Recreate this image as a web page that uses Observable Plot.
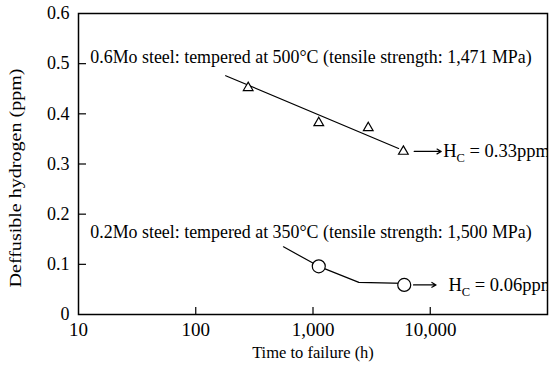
<!DOCTYPE html>
<html>
<head>
<meta charset="utf-8">
<script src="https://cdn.jsdelivr.net/npm/d3@7"></script>
<script src="https://cdn.jsdelivr.net/npm/@observablehq/plot@0.6"></script>
<style>
  html, body { margin: 0; padding: 0; background: #fff; }
  svg, svg text { font-family: "Liberation Serif", "DejaVu Serif", serif !important; }
</style>
</head>
<body>
<div id="chart"></div>
<script>
// ---- data ----
const xTicks = [10, 100, 1000, 10000];
const xInnerTicks = [100, 1000, 10000];
const yTicks = [0, 0.1, 0.2, 0.3, 0.4, 0.5, 0.6];
const yInnerTicks = [0.1, 0.2, 0.3, 0.4, 0.5];

// 0.6Mo steel (triangles)
const mo6Time = [280, 1120, 2960, 5900];
const mo6H = [0.452, 0.382, 0.372, 0.325];
const mo6FitTime = [180, 5370];
const mo6FitH = [0.476, 0.331];

// 0.2Mo steel (circles)
const mo2Time = [1120, 6000];
const mo2H = [0.096, 0.059];
const mo2LineTime = [560, 1120, 2460, 6000];
const mo2LineH = [0.135, 0.096, 0.064, 0.062];

// annotations
const labels = [
  "0.6Mo steel: tempered at 500°C (tensile strength: 1,471 MPa)",
  "0.2Mo steel: tempered at 350°C (tensile strength: 1,500 MPa)"
];
const labelTime = [12.6, 12.6];
const labelH = [0.512, 0.163];

const hcText = ["HC = 0.33ppm", "HC = 0.06ppm"];
const hcTime = [12900, 14300];
const hcH = [0.325, 0.059];
const arrowFrom = [7300, 7200];
const arrowTo = [12400, 11200];

const xLabel = "Time to failure (h)";
const yLabel = "Deffusible hydrogen (ppm)";

// ---- build tables ----
const tri = mo6Time.map((t, i) => ({t, h: mo6H[i]}));
const fit6 = mo6FitTime.map((t, i) => ({t, h: mo6FitH[i]}));
const circ = mo2Time.map((t, i) => ({t, h: mo2H[i]}));
const line2 = mo2LineTime.map((t, i) => ({t, h: mo2LineH[i]}));
const lab = labels.map((s, i) => ({s, t: labelTime[i], h: labelH[i]}));
const hc = hcText.map((s, i) => ({s, t: hcTime[i], h: hcH[i], t1: arrowFrom[i], t2: arrowTo[i]}));

const chart = Plot.plot({
  width: 553,
  height: 369,
  marginLeft: 78,
  marginRight: 6,
  marginTop: 13,
  marginBottom: 55,
  style: {fontFamily: "Liberation Serif", background: "#fff", color: "#000"},
  x: {type: "log", domain: [10, 100000]},
  y: {domain: [0, 0.6]},
  marks: [
    Plot.axisX({ticks: xTicks, tickSize: 0, tickPadding: 8, tickFormat: d3.format(","), fontSize: 19, label: null}),
    Plot.axisX({ticks: xInnerTicks, tickSize: -7, text: null, label: null, strokeWidth: 1.2}),
    Plot.axisY({ticks: yTicks, tickSize: 0, tickPadding: 9, tickFormat: d => d === 0 ? "0" : d3.format(".1f")(d), fontSize: 18, label: null}),
    Plot.axisY({ticks: yInnerTicks, tickSize: -8, text: null, label: null, strokeWidth: 1.2}),
    Plot.text([xLabel], {frameAnchor: "bottom", dy: 43, fontSize: 16.5, text: d => d}),
    Plot.text([yLabel], {frameAnchor: "left", dx: -63, dy: 123.5, rotate: -90, textAnchor: "start", fontSize: 16, text: d => d}),
    Plot.line(fit6, {x: "t", y: "h", stroke: "#000", strokeWidth: 1.2}),
    Plot.line(line2, {x: "t", y: "h", stroke: "#000", strokeWidth: 1.2}),
    Plot.dot(tri, {x: "t", y: "h", symbol: "triangle", r: 3.6, stroke: "#000", fill: "#fff", strokeWidth: 1.2}),
    Plot.dot(circ, {x: "t", y: "h", r: 6.5, stroke: "#000", fill: "#fff", strokeWidth: 1.2}),
    Plot.arrow(hc, {x1: "t1", x2: "t2", y1: "h", y2: "h", stroke: "#000", strokeWidth: 1.2, headLength: 6}),
    Plot.text(lab, {x: "t", y: "h", text: "s", textAnchor: "start", fontSize: 17.9}),
    Plot.text(hc, {x: "t", y: "h", text: "s", textAnchor: "start", fontSize: 18.5, clip: true}),
    Plot.frame({stroke: "#000", strokeWidth: 1.5})
  ]
});

// subscript C in H_C; stretch y label like the reference
const NS = "http://www.w3.org/2000/svg";
chart.querySelectorAll("text").forEach(t => {
  const s = t.textContent;
  if (s.startsWith("HC =")) {
    while (t.firstChild) t.removeChild(t.firstChild);
    const a = document.createElementNS(NS, "tspan"); a.textContent = "H";
    const b = document.createElementNS(NS, "tspan"); b.textContent = "C";
    b.setAttribute("dy", "5"); b.setAttribute("font-size", "12.5");
    const c = document.createElementNS(NS, "tspan"); c.textContent = s.slice(2);
    c.setAttribute("dy", "-5");
    t.appendChild(a); t.appendChild(b); t.appendChild(c);
  }
  if (s === yLabel) {
    t.setAttribute("textLength", "219");
    t.setAttribute("lengthAdjust", "spacingAndGlyphs");
  }
});

document.getElementById("chart").appendChild(chart);
</script>
</body>
</html>
